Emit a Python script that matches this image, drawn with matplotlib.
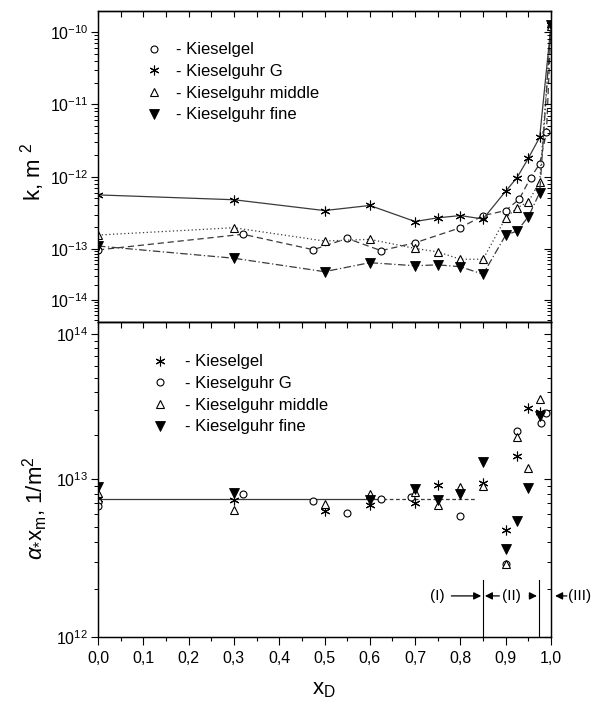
import numpy as np
import matplotlib
matplotlib.use('Agg')
import matplotlib.pyplot as plt
from matplotlib.ticker import FixedLocator, FuncFormatter, MultipleLocator, NullFormatter
from matplotlib.lines import Line2D

plt.rcParams['font.family'] = ['Liberation Sans', 'DejaVu Sans']
plt.rcParams['mathtext.fontset'] = 'custom'
plt.rcParams['mathtext.rm'] = 'Liberation Sans'
plt.rcParams['mathtext.it'] = 'Liberation Sans:italic'
plt.rcParams['mathtext.bf'] = 'Liberation Sans:bold'
plt.rcParams['axes.linewidth'] = 0.9

# ---------------- top panel data: permeability k, m^2 ----------------
kgel_x = [0.0, 0.32, 0.475, 0.55, 0.625, 0.7, 0.8, 0.85, 0.9, 0.93, 0.955, 0.975, 0.99, 1.0]
kgel_k = [9.6e-14, 1.6e-13, 9.7e-14, 1.4e-13, 9.3e-14, 1.22e-13, 1.97e-13, 2.9e-13,
          3.4e-13, 4.9e-13, 9.7e-13, 1.5e-12, 4.1e-12, 1.2e-10]

kg_x = [0.0, 0.3, 0.5, 0.6, 0.7, 0.75, 0.8, 0.85, 0.9, 0.925, 0.95, 0.975, 1.0]
kg_k = [5.6e-13, 4.8e-13, 3.4e-13, 4.0e-13, 2.4e-13, 2.7e-13, 2.9e-13, 2.6e-13,
        6.3e-13, 9.7e-13, 1.8e-12, 3.5e-12, 1.25e-10]

kmid_x = [0.0, 0.3, 0.5, 0.6, 0.7, 0.75, 0.8, 0.85, 0.9, 0.925, 0.95, 0.975, 1.0]
kmid_k = [1.56e-13, 1.97e-13, 1.29e-13, 1.36e-13, 1.02e-13, 8.8e-14, 6.3e-14, 6.3e-14,
          2.7e-13, 3.7e-13, 4.5e-13, 8.5e-13, 1.2e-10]

kfine_x = [0.0, 0.3, 0.5, 0.6, 0.7, 0.75, 0.8, 0.85, 0.9, 0.925, 0.95, 0.975, 1.0]
kfine_k = [1.1e-13, 6.6e-14, 3.6e-14, 5.4e-14, 4.7e-14, 4.9e-14, 4.5e-14, 3.2e-14,
           1.56e-13, 1.77e-13, 2.8e-13, 6.0e-13, 1.25e-10]

# ---------------- bottom panel data: alpha*x_m, 1/m^2 ----------------
agel_x = [0.0, 0.3, 0.5, 0.6, 0.7, 0.75, 0.85, 0.9, 0.925, 0.95, 0.975]
agel_a = [7.5e12, 7.4e12, 6.3e12, 6.8e12, 7.0e12, 9.2e12, 9.4e12, 4.75e12, 1.45e13, 3.1e13, 2.9e13]

ag_x = [0.0, 0.0, 0.32, 0.475, 0.55, 0.625, 0.69, 0.8, 0.9, 0.925, 0.977, 0.988]
ag_a = [7.2e12, 6.7e12, 8.0e12, 7.3e12, 6.1e12, 7.5e12, 7.7e12, 5.8e12, 2.9e12, 2.15e13, 2.44e13, 2.86e13]

amid_x = [0.0, 0.3, 0.5, 0.6, 0.7, 0.75, 0.8, 0.85, 0.9, 0.925, 0.95, 0.975]
amid_a = [8.1e12, 6.4e12, 6.9e12, 8.0e12, 8.3e12, 6.8e12, 8.9e12, 9.0e12, 2.9e12, 1.96e13, 1.19e13, 3.55e13]

afine_x = [0.0, 0.3, 0.6, 0.7, 0.75, 0.8, 0.85, 0.9, 0.925, 0.95, 0.975]
afine_a = [8.9e12, 8.2e12, 7.4e12, 8.6e12, 7.4e12, 8.0e12, 1.32e13, 3.6e12, 5.4e12, 8.8e12, 2.7e13]

fit_level = 7.5e12
fit_solid_x = [0.0, 0.63]
fit_dashed_x = [0.63, 0.835]

region_bounds = [0.85, 0.973]
region_labels = ['(I)', '(II)', '(III)']

labels_top = ['- Kieselgel', '- Kieselguhr G', '- Kieselguhr middle', '- Kieselguhr fine']
labels_bot = ['- Kieselgel', '- Kieselguhr G', '- Kieselguhr middle', '- Kieselguhr fine']

# ---------------- scales (decades are not equally long in the reference) ----------------
R_TOP = 51.0 / 72.3
R_BOT = 145.0 / 158.0


def top_fwd(y):
    t = np.log10(np.clip(np.asarray(y, dtype=float), 1e-300, None))
    return np.where(t >= -13, t, -13 + (t + 13) * R_TOP)


def top_inv(v):
    v = np.asarray(v, dtype=float)
    t = np.where(v >= -13, v, -13 + (v + 13) / R_TOP)
    return 10.0 ** t


def bot_fwd(y):
    t = np.log10(np.clip(np.asarray(y, dtype=float), 1e-300, None))
    return np.where(t <= 13, t, 13 + (t - 13) * R_BOT)


def bot_inv(v):
    v = np.asarray(v, dtype=float)
    t = np.where(v <= 13, v, 13 + (v - 13) / R_BOT)
    return 10.0 ** t


sci_fmt = FuncFormatter(lambda v, p: r'$10^{%d}$' % int(round(np.log10(v))))
comma_fmt = FuncFormatter(lambda v, p: ('%.1f' % v).replace('.', ','))

W, H = 592, 704
fig = plt.figure(figsize=(W / 100, H / 100), dpi=100)
L, R = 98, 551
ax_top = fig.add_axes([L / W, (H - 322) / H, (R - L) / W, (322 - 11) / H])
ax_bot = fig.add_axes([L / W, (H - 637) / H, (R - L) / W, (637 - 322) / H])

line_c = '#3a3a3a'
TICKFS = 11.5
LEGFS = 12

mk_circle = dict(marker='o', mfc='white', mec='black', ms=5, mew=0.8)
mk_ast = dict(marker=(6, 2, 0), mfc='black', mec='black', ms=7, mew=0.8)
mk_tri = dict(marker='^', mfc='white', mec='black', ms=6, mew=0.8)
mk_fine = dict(marker='v', mfc='black', mec='black', ms=6.5, mew=0.6)


def setup_y(ax, fwd, inv, lims, majors):
    ax.set_yscale('function', functions=(fwd, inv))
    ax.set_ylim(*lims)
    ax.yaxis.set_major_locator(FixedLocator(majors))
    minors = [k * m for m in majors[:-1] for k in range(2, 10)]
    minors += [k * majors[0] / 10 for k in range(2, 10)]
    minors += [k * majors[-1] for k in range(2, 10)]
    ax.yaxis.set_minor_locator(FixedLocator(minors))
    ax.yaxis.set_major_formatter(sci_fmt)
    ax.yaxis.set_minor_formatter(NullFormatter())


top_majors = [1e-14, 1e-13, 1e-12, 1e-11, 1e-10]
bot_majors = [1e12, 1e13, 1e14]
top_lims = (10 ** -14.43, 10 ** -9.71)
bot_lims = (1e12, 10 ** 14.083)

# ---------------- top panel ----------------
ax = ax_top
ax.plot(kgel_x, kgel_k, ls=(0, (5, 3)), lw=0.9, color=line_c, **mk_circle)
ax.plot(kg_x, kg_k, ls='-', lw=0.9, color=line_c, **mk_ast)
ax.plot(kmid_x, kmid_k, ls=(0, (1, 2)), lw=0.9, color=line_c, **mk_tri)
ax.plot(kfine_x, kfine_k, ls=(0, (6, 2, 1, 2)), lw=0.9, color=line_c, **mk_fine)
ax.set_xlim(0, 1.0)
setup_y(ax, top_fwd, top_inv, top_lims, top_majors)
ax.tick_params(axis='y', which='major', direction='out', length=5, width=0.8,
               labelsize=TICKFS, pad=2, right=False)
ax.tick_params(axis='y', which='minor', direction='out', length=3, width=0.7, right=False)
ax.tick_params(axis='x', which='both', bottom=False, labelbottom=False, top=False)

handles_top = [Line2D([], [], ls='none', **mk_circle), Line2D([], [], ls='none', **mk_ast),
               Line2D([], [], ls='none', **mk_tri), Line2D([], [], ls='none', **mk_fine)]
ax.legend(handles_top, labels_top, loc='upper left', bbox_to_anchor=(0.105, 0.899),
          frameon=False, fontsize=LEGFS, handlelength=1.0, handletextpad=0.82,
          labelspacing=0.4, borderpad=0, borderaxespad=0)

axr = ax.twinx()
setup_y(axr, top_fwd, top_inv, top_lims, top_majors)
axr.tick_params(axis='y', which='major', direction='in', length=5, width=0.8, labelright=False)
axr.tick_params(axis='y', which='minor', direction='in', length=3, width=0.7)
axr.set_xlim(0, 1.0)
sec = ax.secondary_xaxis('top')
sec.xaxis.set_major_locator(MultipleLocator(0.05))
sec.tick_params(direction='in', length=4, width=0.8, labeltop=False)

# ---------------- bottom panel ----------------
ax = ax_bot
ax.plot(fit_solid_x, [fit_level] * len(fit_solid_x), ls='-', lw=0.9, color=line_c)
ax.plot(fit_dashed_x, [fit_level] * len(fit_dashed_x), ls=(0, (3, 2)), lw=0.9, color=line_c)
ax.plot(agel_x, agel_a, ls='none', **mk_ast)
ax.plot(ag_x, ag_a, ls='none', **mk_circle)
ax.plot(amid_x, amid_a, ls='none', **mk_tri)
ax.plot(afine_x, afine_a, ls='none', **mk_fine)
ax.set_xlim(0, 1.0)
setup_y(ax, bot_fwd, bot_inv, bot_lims, bot_majors)
ax.xaxis.set_major_locator(MultipleLocator(0.1))
ax.xaxis.set_minor_locator(MultipleLocator(0.05))
ax.xaxis.set_major_formatter(comma_fmt)
ax.tick_params(axis='x', which='major', direction='out', length=6, width=0.8,
               labelsize=TICKFS, pad=4, top=False)
ax.tick_params(axis='x', which='minor', direction='out', length=3, width=0.8, top=False)
ax.tick_params(axis='y', which='major', direction='out', length=5, width=0.8,
               labelsize=TICKFS, pad=2, right=False)
ax.tick_params(axis='y', which='minor', direction='out', length=3, width=0.7, right=False)

handles_bot = [Line2D([], [], ls='none', **mk_ast), Line2D([], [], ls='none', **mk_circle),
               Line2D([], [], ls='none', **mk_tri), Line2D([], [], ls='none', **mk_fine)]
ax.legend(handles_bot, labels_bot, loc='upper left', bbox_to_anchor=(0.1185, 0.897),
          frameon=False, fontsize=LEGFS, handlelength=1.0, handletextpad=1.0,
          labelspacing=0.4, borderpad=0, borderaxespad=0)

# region separators and labels
sep_top = 2.3e12
arrow_y = 1.82e12
for xb in region_bounds:
    ax.plot([xb, xb], [bot_lims[0], sep_top], color='black', lw=0.8)
ap = dict(arrowstyle='-|>', color='black', lw=0.9, mutation_scale=11, shrinkA=0, shrinkB=0)
ax.text(0.75, arrow_y, region_labels[0], ha='center', va='center', fontsize=11)
ax.annotate('', xy=(0.846, arrow_y), xytext=(0.78, arrow_y), arrowprops=ap)
ax.annotate('', xy=(0.854, arrow_y), xytext=(0.886, arrow_y), arrowprops=ap)
ax.text(0.913, arrow_y, region_labels[1], ha='center', va='center', fontsize=11)
ax.annotate('', xy=(0.969, arrow_y), xytext=(0.952, arrow_y), arrowprops=ap)
ax.annotate('', xy=(1.009, arrow_y), xytext=(1.035, arrow_y), arrowprops=ap,
            annotation_clip=False)
ax.text(1.063, arrow_y, region_labels[2], ha='center', va='center', fontsize=11, clip_on=False)

axr2 = ax.twinx()
setup_y(axr2, bot_fwd, bot_inv, bot_lims, bot_majors)
axr2.tick_params(axis='y', which='major', direction='in', length=5, width=0.8, labelright=False)
axr2.tick_params(axis='y', which='minor', direction='in', length=3, width=0.7)
axr2.set_xlim(0, 1.0)
sec2 = ax.secondary_xaxis('top')
sec2.xaxis.set_major_locator(MultipleLocator(0.05))
sec2.tick_params(direction='in', length=4, width=0.8, labeltop=False)

# axis labels
fig.text(33 / W, 1 - 172 / H, 'k, m $^2$', rotation=90, ha='center', va='center', fontsize=16)
fig.text(35 / W, 1 - 508 / H, r'$\alpha_{*}\mathrm{x}_\mathrm{m}$, 1/m$^2$', rotation=90,
         ha='center', va='center', fontsize=16)
fig.text(324 / W, 1 - 689 / H, r'x$_\mathrm{D}$', ha='center', va='center', fontsize=16)

fig.savefig('out.png', dpi=100)
